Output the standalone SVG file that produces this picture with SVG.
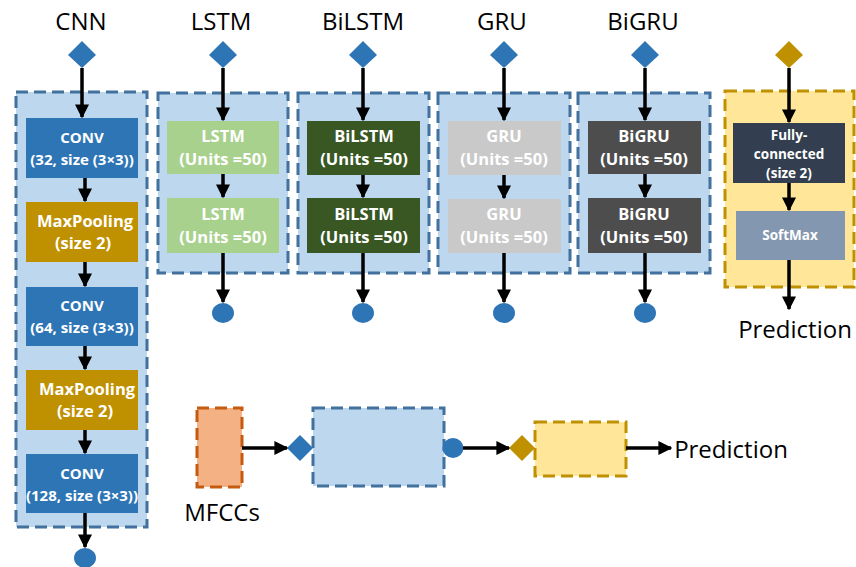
<svg xmlns="http://www.w3.org/2000/svg" width="856" height="567" viewBox="0 0 856 567">
<style>
.title{font-family:"Open Sans","Liberation Sans",sans-serif;font-size:24px;fill:#000;text-anchor:middle}
.bt{font-family:"Open Sans","Liberation Sans",sans-serif;font-size:15px;font-weight:bold;fill:#fff;text-anchor:middle}
.bu{font-family:"Open Sans","Liberation Sans",sans-serif;font-size:16.5px;font-weight:bold;fill:#fff;text-anchor:middle}
.st{font-family:"Open Sans","Liberation Sans",sans-serif;font-size:13.5px;font-weight:bold;fill:#fff;text-anchor:middle}
.cb{fill:#bdd7ee;stroke:#41719c;stroke-width:3;stroke-dasharray:12 6}
.cy{fill:#ffe699;stroke:#bf9000;stroke-width:3;stroke-dasharray:12 6}
.co{fill:#f4b183;stroke:#c55a11;stroke-width:3;stroke-dasharray:12 6}
.dB{fill:#2e75b6}
.dG{fill:#bf9000}
.ar{stroke:#000;stroke-width:3.5;fill:none;marker-end:url(#ah)}
</style>
<defs>
<marker id="ah" viewBox="0 0 10 10" refX="9" refY="5" markerWidth="4" markerHeight="4" orient="auto" markerUnits="strokeWidth">
<path d="M0,0 L10,5 L0,10 Z" fill="#000"/>
</marker>
</defs>
<rect width="856" height="567" fill="#fff"/>

<g id="cnn">
<text class="title" x="81" y="30">CNN</text>
<rect class="cb" x="16" y="92" width="131" height="435"/>
<rect x="26" y="118" width="112" height="60" fill="#2e75b6"/>
<text class="bt" x="82" y="143">CONV</text><text class="bt" x="82" y="165">(32, size (3×3))</text>
<rect x="26" y="202" width="112" height="60" fill="#bf9000"/>
<text class="bu" x="85" y="227">MaxPooling</text><text class="bu" x="83" y="249">(size 2)</text>
<rect x="26" y="287" width="112" height="59" fill="#2e75b6"/>
<text class="bt" x="82" y="311">CONV</text><text class="bt" x="82" y="333">(64, size (3×3))</text>
<rect x="26" y="370" width="112" height="60" fill="#bf9000"/>
<text class="bu" x="87" y="395">MaxPooling</text><text class="bu" x="85" y="417">(size 2)</text>
<rect x="26" y="454" width="112" height="59" fill="#2e75b6"/>
<text class="bt" x="82" y="479">CONV</text><text class="bt" x="82" y="501">(128, size (3×3))</text>
</g>

<g id="lstm">
<text class="title" x="221" y="30">LSTM</text>
<rect class="cb" x="158" y="93" width="130" height="180"/>
<rect x="167" y="121" width="112" height="53" fill="#a9d18e"/>
<text class="bu" x="223" y="142">LSTM</text><text class="bu" x="223" y="165">(Units =50)</text>
<rect x="167" y="198" width="112" height="55" fill="#a9d18e"/>
<text class="bu" x="223" y="220">LSTM</text><text class="bu" x="223" y="243">(Units =50)</text>
</g>

<g id="bilstm">
<text class="title" x="363" y="30">BiLSTM</text>
<rect class="cb" x="298" y="93" width="131" height="180"/>
<rect x="307" y="121" width="113" height="54" fill="#385723"/>
<text class="bu" x="364" y="142">BiLSTM</text><text class="bu" x="364" y="165">(Units =50)</text>
<rect x="307" y="198" width="113" height="55" fill="#385723"/>
<text class="bu" x="364" y="220">BiLSTM</text><text class="bu" x="364" y="243">(Units =50)</text>
</g>

<g id="gru">
<text class="title" x="502" y="30">GRU</text>
<rect class="cb" x="438" y="93" width="132" height="180"/>
<rect x="448" y="121" width="113" height="54" fill="#c9c9c9"/>
<text class="bu" x="504" y="142">GRU</text><text class="bu" x="504" y="165">(Units =50)</text>
<rect x="448" y="199" width="113" height="54" fill="#c9c9c9"/>
<text class="bu" x="504" y="220">GRU</text><text class="bu" x="504" y="243">(Units =50)</text>
</g>

<g id="bigru">
<text class="title" x="643" y="30">BiGRU</text>
<rect class="cb" x="578" y="93" width="132" height="180"/>
<rect x="588" y="121" width="113" height="53" fill="#4d4d4d"/>
<text class="bu" x="644" y="142">BiGRU</text><text class="bu" x="644" y="165">(Units =50)</text>
<rect x="588" y="198" width="113" height="55" fill="#4d4d4d"/>
<text class="bu" x="644" y="220">BiGRU</text><text class="bu" x="644" y="243">(Units =50)</text>
</g>

<g id="fc">
<rect class="cy" x="725" y="91" width="129" height="196"/>
<rect x="733" y="123" width="112" height="60" fill="#333f50"/>
<text class="st" x="789" y="140">Fully-</text><text class="st" x="789" y="159">connected</text><text class="st" x="789" y="178">(size 2)</text>
<rect x="736" y="211" width="109" height="49" fill="#8497b0"/>
<text class="st" x="790" y="240">SoftMax</text>
<text class="title" x="795" y="338">Prediction</text>
</g>

<g id="inputs">
<polygon class="dB" points="82,41 96,55 82,68 68,55"/>
<polygon class="dB" points="223,41 237,55 223,68 209,55"/>
<polygon class="dB" points="363,41 377,55 363,68 349,55"/>
<polygon class="dB" points="504,41 518,55 504,68 490,55"/>
<polygon class="dB" points="645,41 659,55 645,68 631,55"/>
<polygon class="dG" points="789,41 803,55 789,68 775,55"/>
</g>

<g id="outputs">
<ellipse class="dB" cx="85" cy="558" rx="11" ry="10"/>
<ellipse class="dB" cx="223" cy="313" rx="11" ry="10"/>
<ellipse class="dB" cx="363" cy="313" rx="11" ry="10"/>
<ellipse class="dB" cx="504" cy="313" rx="11" ry="10"/>
<ellipse class="dB" cx="645" cy="313" rx="11" ry="10"/>
</g>

<g id="overview">
<rect class="co" x="197" y="408" width="45" height="79"/>
<text class="title" x="222" y="521">MFCCs</text>
<rect class="cb" x="313" y="408" width="131" height="78"/>
<polygon class="dB" points="300,435 313,448 300,461 287,448"/>
<ellipse class="dB" cx="453" cy="448" rx="10.5" ry="10"/>
<rect class="cy" x="535" y="422" width="91" height="54"/>
<polygon class="dG" points="522,435 535,448 522,461 509,448"/>
<text class="title" x="731" y="458">Prediction</text>
</g>

<g id="connectors">
<line class="ar" x1="82" y1="68" x2="82" y2="117"/>
<line class="ar" x1="85" y1="178" x2="85" y2="201"/>
<line class="ar" x1="85" y1="262" x2="85" y2="286"/>
<line class="ar" x1="85" y1="346" x2="85" y2="369"/>
<line class="ar" x1="85" y1="430" x2="85" y2="453"/>
<line class="ar" x1="85" y1="513" x2="85" y2="547"/>

<line class="ar" x1="223" y1="68" x2="223" y2="120"/>
<line class="ar" x1="223" y1="174" x2="223" y2="197"/>
<line class="ar" x1="223" y1="253" x2="223" y2="302"/>

<line class="ar" x1="363" y1="68" x2="363" y2="120"/>
<line class="ar" x1="363" y1="175" x2="363" y2="197"/>
<line class="ar" x1="363" y1="253" x2="363" y2="302"/>

<line class="ar" x1="504" y1="68" x2="504" y2="120"/>
<line class="ar" x1="504" y1="175" x2="504" y2="198"/>
<line class="ar" x1="504" y1="253" x2="504" y2="302"/>

<line class="ar" x1="645" y1="68" x2="645" y2="120"/>
<line class="ar" x1="645" y1="174" x2="645" y2="197"/>
<line class="ar" x1="645" y1="253" x2="645" y2="302"/>

<line class="ar" x1="789" y1="68" x2="789" y2="122"/>
<line class="ar" x1="789" y1="183" x2="789" y2="210"/>
<line class="ar" x1="789" y1="260" x2="789" y2="309"/>

<line class="ar" x1="242" y1="448" x2="287" y2="448"/>
<line class="ar" x1="463" y1="448" x2="509" y2="448"/>
<line class="ar" x1="626" y1="448" x2="671" y2="448"/>
</g>
</svg>
